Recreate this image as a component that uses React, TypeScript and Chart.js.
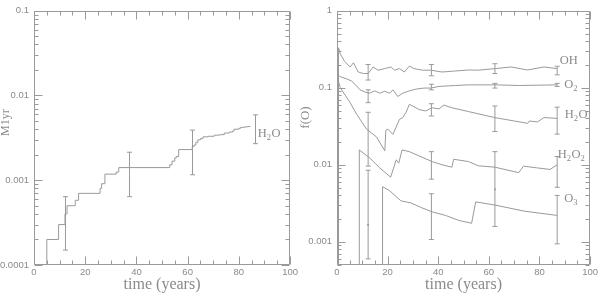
import React, { useEffect, useRef } from "react";
import { Chart, registerables } from "chart.js";

Chart.register(...registerables);

const LINE = "#9a9a9a";
const TEXT = "#8a8a8a";

// ---------- shared axis ticks ----------
const X_TICKS = [0, 20, 40, 60, 80, 100];
const X_MINOR_STEP = 5;
const LEFT_Y_TICKS = [0.0001, 0.001, 0.01, 0.1];
const RIGHT_Y_TICKS = [0.001, 0.01, 0.1, 1];

// ---------- left panel: cumulative H2O (M1yr) ----------
const massTime = [5, 5, 9.6, 12.1, 12.9, 16.1, 17.4, 25.8, 26.4, 27.7, 32.1, 33.1, 53.0, 53.9, 55.0, 55.6, 56.5, 61.8, 62.5, 63.2, 64.0, 65.0, 66.0, 68.0, 70.4, 72.5, 74.3, 76.2, 77.5, 78.1, 80.0, 80.7, 82.0, 83.3, 84.5];
const massValue = [0.00005, 0.0002, 0.0003, 0.0004, 0.0005, 0.00058, 0.0007, 0.0008, 0.00091, 0.00118, 0.00125, 0.00141, 0.00152, 0.00168, 0.00184, 0.0019, 0.0023, 0.0025, 0.0026, 0.0028, 0.003, 0.0031, 0.00325, 0.0033, 0.0034, 0.00345, 0.0036, 0.0037, 0.0038, 0.004, 0.0041, 0.0042, 0.00425, 0.0043, 0.0043];
const massErrX = [12.3, 37.3, 61.9, 86.5];
const massErrLo = [0.00015, 0.00064, 0.00116, 0.0027];
const massErrHi = [0.00064, 0.00214, 0.0039, 0.0059];
const leftLabels = ["H2O"];
const leftLabelX = [87.4];
const leftLabelY = [0.0035];

// ---------- right panel: f(O) ----------
const ohTime = [0.5, 0.6, 1.3, 3.0, 5.2, 6.5, 8.4, 10.4, 12.3, 14.3, 16.2, 18.8, 21.4, 22.7, 24.7, 26.6, 28.6, 30.5, 33.7, 37.0, 41.5, 46.8, 52.0, 55.8, 62.4, 68.8, 75.3, 81.8, 87.0];
const ohValue = [0.000001, 0.33, 0.275, 0.22, 0.186, 0.211, 0.16, 0.153, 0.153, 0.186, 0.169, 0.177, 0.186, 0.169, 0.177, 0.16, 0.191, 0.177, 0.169, 0.169, 0.16, 0.165, 0.17, 0.169, 0.177, 0.186, 0.17, 0.186, 0.177];

const o2Time = [0.5, 0.6, 1.3, 3.9, 5.8, 7.1, 9.1, 11.0, 13.0, 14.9, 16.9, 18.8, 20.8, 22.1, 24.0, 26.0, 28.6, 31.2, 34.4, 37.0, 40.3, 46.8, 52.0, 62.4, 72.0, 87.0];
const o2Value = [0.000001, 0.145, 0.139, 0.13, 0.122, 0.111, 0.094, 0.088, 0.085, 0.091, 0.085, 0.09, 0.085, 0.094, 0.077, 0.085, 0.091, 0.096, 0.099, 0.099, 0.104, 0.107, 0.109, 0.109, 0.107, 0.109];

const h2oTime = [0.5, 0.6, 1.3, 5.2, 7.8, 11.7, 15.6, 18.9, 19.3, 20.1, 22.1, 23.4, 24.7, 26.0, 27.3, 28.6, 32.5, 35.0, 37.6, 40.3, 42.2, 45.4, 52.0, 62.3, 70.1, 75.3, 76.0, 79.2, 81.8, 87.0];
const h2oValue = [0.000001, 0.12, 0.1, 0.064, 0.045, 0.029, 0.023, 0.0152, 0.028, 0.029, 0.0248, 0.031, 0.039, 0.041, 0.048, 0.061, 0.052, 0.05, 0.055, 0.053, 0.0595, 0.055, 0.049, 0.041, 0.037, 0.0345, 0.037, 0.036, 0.041, 0.04];

const h2o2Time = [8.7, 8.8, 13.0, 16.9, 21.2, 23.4, 24.4, 25.7, 28.6, 32.5, 37.6, 41.5, 45.4, 46.1, 52.0, 55.8, 62.4, 71.8, 73.7, 79.2, 84.2, 87.0];
const h2o2Value = [0.000001, 0.0156, 0.0122, 0.0091, 0.0069, 0.0116, 0.0105, 0.0156, 0.0148, 0.013, 0.011, 0.01, 0.0093, 0.0118, 0.011, 0.0097, 0.0093, 0.0079, 0.0096, 0.0091, 0.0087, 0.01];

const o3Time = [17.9, 18.0, 20.8, 25.3, 29.2, 33.1, 37.6, 42.9, 48.0, 53.2, 54.8, 62.4, 74.0, 87.0];
const o3Value = [0.000001, 0.0052, 0.0046, 0.0034, 0.0032, 0.0028, 0.00245, 0.0022, 0.0019, 0.00174, 0.0033, 0.003, 0.0025, 0.0022];

const fracErrX = [12.3, 12.3, 12.3, 12.3, 37.3, 37.3, 37.3, 37.3, 37.3, 62.4, 62.4, 62.4, 62.4, 87, 87, 87, 87, 87];
const fracErrLo = [0.126, 0.064, 0.0096, 0.0006, 0.143, 0.094, 0.043, 0.0065, 0.00107, 0.153, 0.099, 0.027, 0.00158, 0.147, 0.104, 0.025, 0.0051, 0.00094];
const fracErrHi = [0.2, 0.094, 0.048, 0.0085, 0.2, 0.111, 0.062, 0.0148, 0.0042, 0.205, 0.114, 0.058, 0.0148, 0.19, 0.114, 0.056, 0.0128, 0.004];
const fracDotX = [12.3, 62.4];
const fracDotY = [0.00166, 0.0048];

const rightLabels = ["OH", "O2", "H2O", "H2O2", "O3"];
const rightLabelX = [88.0, 89.8, 90.0, 87.2, 89.8];
const rightLabelY = [0.226, 0.109, 0.044, 0.0134, 0.0036];

// ---------- helpers ----------
const pairs = (xs: number[], ys: number[]) => xs.map((x, i) => ({ x, y: ys[i] }));

function lineSet(xs: number[], ys: number[], stepped = false) {
  return {
    data: pairs(xs, ys),
    borderColor: LINE,
    borderWidth: 1,
    pointRadius: 0,
    pointHoverRadius: 0,
    stepped,
    tension: 0,
    fill: false,
  };
}

function errorSets(xs: number[], lo: number[], hi: number[]) {
  return xs.map((x, i) => ({
    data: [
      { x, y: lo[i] },
      { x, y: hi[i] },
    ],
    borderColor: LINE,
    borderWidth: 1,
    pointStyle: "line",
    pointRadius: 2.5,
    pointHoverRadius: 2.5,
    pointBorderColor: LINE,
    pointBorderWidth: 1,
    fill: false,
  }));
}

function dotSet(xs: number[], ys: number[]) {
  return {
    data: pairs(xs, ys),
    showLine: false,
    pointStyle: "rect",
    pointRadius: 1.3,
    pointHoverRadius: 1.3,
    pointBackgroundColor: LINE,
    pointBorderColor: LINE,
    pointBorderWidth: 0,
  };
}

const framePlugin = {
  id: "frame",
  afterDatasetsDraw(chart: any) {
    const { ctx, chartArea: a } = chart;
    const xs = chart.scales.x;
    const ys = chart.scales.y;
    const L = Math.round(a.left) + 0.5;
    const R = Math.round(a.right) - 0.5;
    const T = Math.round(a.top) + 0.5;
    const B = Math.round(a.bottom) - 0.5;
    ctx.save();
    ctx.strokeStyle = LINE;
    ctx.lineWidth = 1;
    ctx.beginPath();
    ctx.rect(L, T, R - L, B - T);
    for (let v = xs.min; v <= xs.max + 1e-9; v += X_MINOR_STEP) {
      const major = X_TICKS.some((t) => Math.abs(t - v) < 1e-6);
      const len = major ? 8 : 4;
      const px = Math.round(xs.getPixelForValue(v)) + 0.5;
      ctx.moveTo(px, B);
      ctx.lineTo(px, B - len);
      ctx.moveTo(px, T);
      ctx.lineTo(px, T + len);
    }
    const e0 = Math.floor(Math.log10(ys.min) - 1e-9);
    const e1 = Math.ceil(Math.log10(ys.max) + 1e-9);
    for (let e = e0; e <= e1; e++) {
      for (let k = 1; k < 10; k++) {
        const v = k * Math.pow(10, e);
        if (v < ys.min * 0.999 || v > ys.max * 1.001) continue;
        const len = k === 1 ? 8 : 4;
        const py = Math.round(ys.getPixelForValue(v)) + 0.5;
        ctx.moveTo(L, py);
        ctx.lineTo(L + len, py);
        ctx.moveTo(R, py);
        ctx.lineTo(R - len, py);
      }
    }
    ctx.stroke();
    ctx.restore();
  },
};

function drawChem(ctx: CanvasRenderingContext2D, text: string, x: number, y: number, size: number) {
  const runs = text.match(/[0-9]+|[^0-9]+/g) || [];
  let cx = x;
  for (const run of runs) {
    const sub = /^[0-9]/.test(run);
    const fs = sub ? size * 0.68 : size;
    ctx.font = `${fs}px "Liberation Serif", serif`;
    ctx.fillText(run, cx, sub ? y + size * 0.32 : y);
    cx += ctx.measureText(run).width + (sub ? 0.5 : 0);
  }
}

function makeLabelPlugin(texts: string[], xs: number[], ys: number[], yTitle: string, yTitleFrac: number, yTitleSize: number) {
  return {
    id: "labels",
    afterDraw(chart: any) {
      const { ctx, chartArea: a } = chart;
      const sx = chart.scales.x;
      const sy = chart.scales.y;
      ctx.save();
      ctx.fillStyle = TEXT;
      ctx.textBaseline = "middle";
      ctx.textAlign = "left";
      texts.forEach((t, i) => {
        drawChem(ctx, t, sx.getPixelForValue(xs[i]), sy.getPixelForValue(ys[i]), 12.5);
      });
      ctx.translate(6, a.top + a.height * yTitleFrac);
      ctx.rotate(-Math.PI / 2);
      ctx.textAlign = "center";
      ctx.font = `${yTitleSize}px "Liberation Serif", serif`;
      ctx.fillText(yTitle, 0, 0);
      ctx.restore();
    },
  };
}

function makeConfig(datasets: any[], yMin: number, yMax: number, yTicks: number[], yWidth: number, plugin: any) {
  return {
    type: "line",
    data: { datasets },
    options: {
      animation: false,
      responsive: false,
      events: [],
      layout: { padding: { left: 0, right: 7, top: 4, bottom: 0 } },
      plugins: { legend: { display: false }, tooltip: { enabled: false } },
      scales: {
        x: {
          type: "linear",
          min: 0,
          max: 100,
          afterBuildTicks: (s: any) => {
            s.ticks = X_TICKS.map((v) => ({ value: v }));
          },
          afterFit: (s: any) => {
            s.height = 30;
          },
          grid: { display: false, drawTicks: false },
          border: { display: false },
          ticks: {
            autoSkip: false,
            maxRotation: 0,
            padding: 2,
            color: TEXT,
            font: { family: '"Liberation Sans", sans-serif', size: 9.5 },
            callback: (v: any) => String(v),
          },
          title: {
            display: true,
            text: "time (years)",
            color: TEXT,
            font: { family: '"Liberation Serif", serif', size: 16 },
            padding: { top: 0, bottom: 1 },
          },
        },
        y: {
          type: "logarithmic",
          min: yMin,
          max: yMax,
          afterBuildTicks: (s: any) => {
            s.ticks = yTicks.map((v) => ({ value: v }));
          },
          afterFit: (s: any) => {
            s.width = yWidth;
          },
          grid: { display: false, drawTicks: false },
          border: { display: false },
          ticks: {
            autoSkip: false,
            padding: 5,
            color: TEXT,
            font: { family: '"Liberation Sans", sans-serif', size: 9.5 },
            callback: (v: any) => String(v),
          },
        },
      },
    },
    plugins: [framePlugin, plugin],
  };
}

export default function App() {
  const leftRef = useRef<HTMLCanvasElement | null>(null);
  const rightRef = useRef<HTMLCanvasElement | null>(null);

  useEffect(() => {
    const leftSets = [lineSet(massTime, massValue, true), ...errorSets(massErrX, massErrLo, massErrHi)];
    const rightSets = [
      lineSet(ohTime, ohValue),
      lineSet(o2Time, o2Value),
      lineSet(h2oTime, h2oValue),
      lineSet(h2o2Time, h2o2Value),
      lineSet(o3Time, o3Value),
      ...errorSets(fracErrX, fracErrLo, fracErrHi),
      dotSet(fracDotX, fracDotY),
    ];
    const left = new Chart(
      leftRef.current as HTMLCanvasElement,
      makeConfig(leftSets, 0.0001, 0.1, LEFT_Y_TICKS, 34, makeLabelPlugin(leftLabels, leftLabelX, leftLabelY, "M1yr", 0.44, 12)) as any
    );
    const right = new Chart(
      rightRef.current as HTMLCanvasElement,
      makeConfig(rightSets, 0.0005, 1, RIGHT_Y_TICKS, 37, makeLabelPlugin(rightLabels, rightLabelX, rightLabelY, "f(O)", 0.42, 13)) as any
    );
    return () => {
      left.destroy();
      right.destroy();
    };
  }, []);

  return (
    <div style={{ position: "fixed", left: 0, top: 0, width: 600, height: 295, display: "flex", background: "#fff" }}>
      <canvas ref={leftRef} width={300} height={295} style={{ width: 300, height: 295, display: "block" }} />
      <canvas ref={rightRef} width={300} height={295} style={{ width: 300, height: 295, display: "block" }} />
    </div>
  );
}
